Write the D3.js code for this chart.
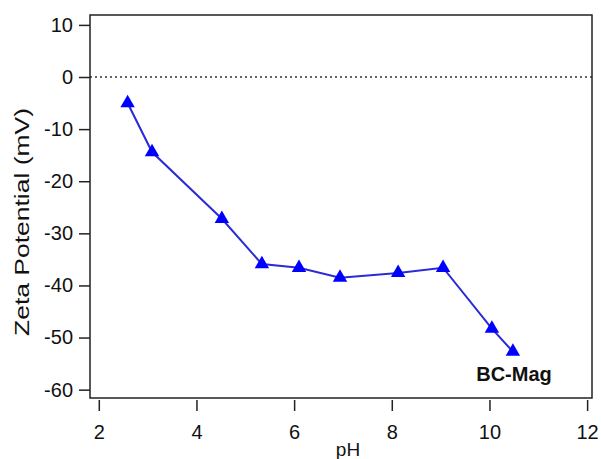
<!DOCTYPE html>
<html>
<head>
<meta charset="utf-8">
<script src="https://cdn.jsdelivr.net/npm/d3@7"></script>
<style>
  body { margin: 0; background: #fff; }
  text { font-family: Arial, "Liberation Sans", sans-serif; }
</style>
</head>
<body>
<div id="chart"></div>
<script>
const width = 601;
const height = 459;

// data
const pH = [2.59, 3.09, 4.52, 5.34, 6.10, 6.94, 8.13, 9.05, 10.05, 10.48];
const zeta = [-5.0, -14.4, -27.2, -35.9, -36.6, -38.5, -37.6, -36.6, -48.3, -52.7];
const xTicks = [2, 4, 6, 8, 10, 12];
const yTicks = [10, 0, -10, -20, -30, -40, -50, -60];
const seriesLabel = "BC-Mag";

const points = pH.map((p, i) => ({ x: p, y: zeta[i] }));

const svg = d3.select("#chart").append("svg")
    .attr("width", width)
    .attr("height", height);

const x = d3.scaleLinear().domain([1.82, 12.1]).range([90, 592]);
const y = d3.scaleLinear().domain([-61.6, 11.9]).range([398, 15]);

// zero reference line
svg.append("line")
    .attr("x1", x.range()[0]).attr("x2", x.range()[1])
    .attr("y1", y(0)).attr("y2", y(0))
    .attr("stroke", "#333")
    .attr("stroke-width", 1.5)
    .attr("stroke-dasharray", "2,3");

// frame
svg.append("rect")
    .attr("x", 90).attr("y", 15)
    .attr("width", 502).attr("height", 383)
    .attr("fill", "none")
    .attr("stroke", "#222")
    .attr("stroke-width", 1.5);

// y axis (plain hyphen minus like the original)
const yAxis = svg.append("g")
    .attr("transform", "translate(90,0)")
    .call(d3.axisLeft(y).tickValues(yTicks).tickFormat(d => String(d))
        .tickSize(11).tickSizeOuter(0).tickPadding(6));
yAxis.select(".domain").remove();
yAxis.selectAll("line").attr("stroke", "#222").attr("stroke-width", 1.5);
yAxis.selectAll("text").style("font-size", "20px").attr("fill", "#111");

// x axis
const xAxis = svg.append("g")
    .attr("transform", "translate(0,400)")
    .call(d3.axisBottom(x).tickValues(xTicks).tickFormat(d => String(d))
        .tickSize(11).tickSizeOuter(0).tickPadding(14));
xAxis.select(".domain").remove();
xAxis.selectAll("line").attr("stroke", "#222").attr("stroke-width", 1.5);
xAxis.selectAll("text").style("font-size", "20px").attr("fill", "#111");

// axis titles
svg.append("text")
    .attr("x", 348).attr("y", 456)
    .attr("text-anchor", "middle")
    .style("font-size", "19px")
    .attr("fill", "#111")
    .text("pH");

svg.append("text")
    .attr("transform", "translate(29,222) rotate(-90)")
    .attr("text-anchor", "middle")
    .style("font-size", "21px")
    .attr("textLength", 228)
    .attr("lengthAdjust", "spacingAndGlyphs")
    .attr("fill", "#111")
    .text("Zeta Potential (mV)");

// series line
const line = d3.line().x(d => x(d.x)).y(d => y(d.y));
svg.append("path")
    .datum(points)
    .attr("d", line)
    .attr("fill", "none")
    .attr("stroke", "#2a2ad6")
    .attr("stroke-width", 2);

// triangle markers
svg.selectAll(".marker")
    .data(points)
    .enter()
    .append("path")
    .attr("class", "marker")
    .attr("transform", d => `translate(${x(d.x)},${y(d.y)})`)
    .attr("d", d3.symbol().type(d3.symbolTriangle).size(90))
    .attr("fill", "#0000ff");

// series label
svg.append("text")
    .attr("x", 514).attr("y", 381)
    .attr("text-anchor", "middle")
    .style("font-size", "20px")
    .attr("font-weight", "bold")
    .attr("fill", "#111")
    .text(seriesLabel);
</script>
</body>
</html>
